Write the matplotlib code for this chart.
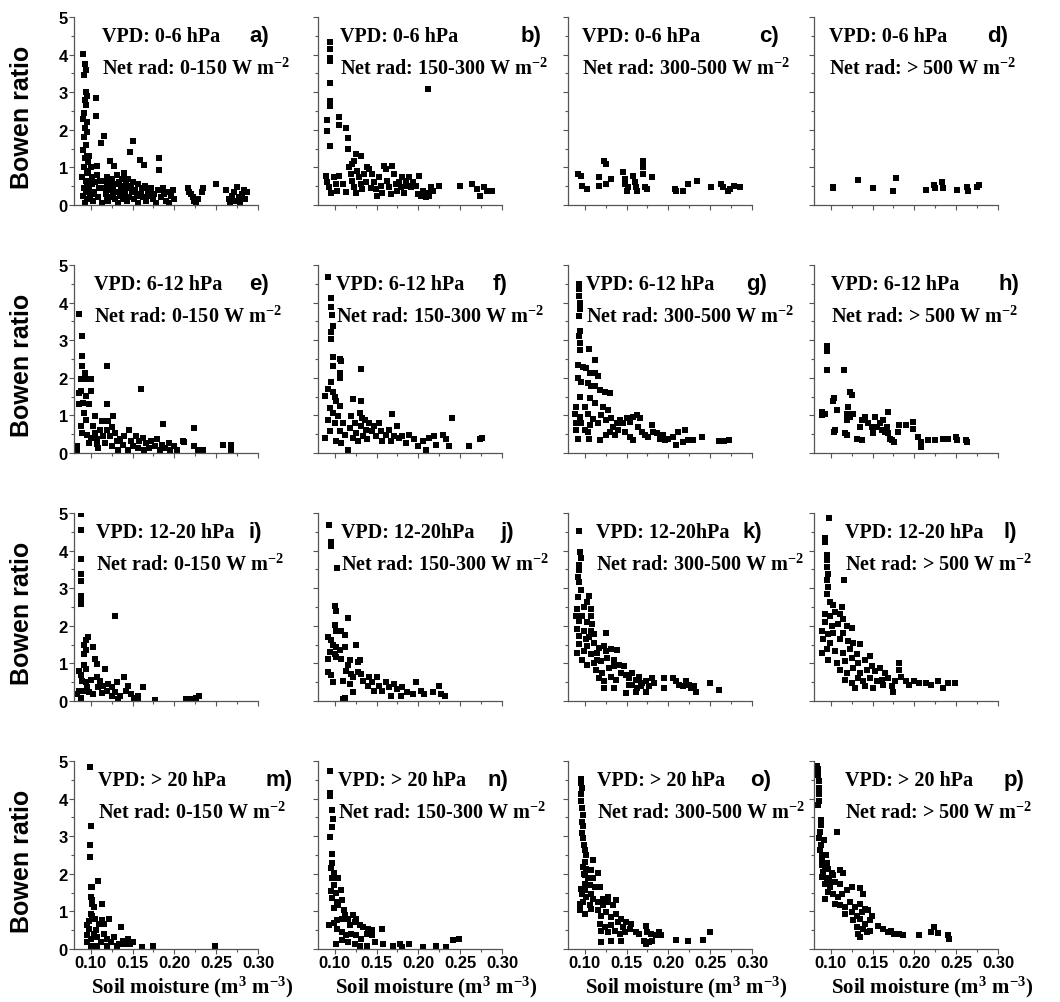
import matplotlib
matplotlib.use("Agg")
import matplotlib.pyplot as plt
from matplotlib.ticker import MultipleLocator

plt.rcParams['mathtext.fontset'] = 'custom'
plt.rcParams['mathtext.rm'] = 'Liberation Serif:bold'
plt.rcParams['mathtext.bf'] = 'Liberation Serif:bold'
plt.rcParams['mathtext.it'] = 'Liberation Serif:bold'

# soil moisture (m3 m-3), Bowen ratio
# VPD 0-6 hPa
pts_a = [(0.091,4.02),(0.093,3.75),(0.094,3.6),(0.092,3.45),(0.094,3.0),(0.095,2.9),(0.093,2.8),(0.094,2.65),
         (0.092,2.45),(0.091,2.3),(0.095,2.2),(0.093,2.05),(0.096,1.95),(0.092,1.8),(0.094,1.6),(0.091,1.45),
         (0.095,1.3),(0.093,1.25),(0.097,1.15),(0.092,1.0),(0.095,0.9),(0.090,0.75),(0.094,0.65),(0.096,0.55),
         (0.092,0.45),(0.094,0.35),(0.091,0.25),(0.096,0.15),(0.093,0.05),(0.098,0.4),(0.099,0.6),(0.099,0.2),
         (0.097,0.85),(0.100,1.0),(0.101,0.3),(0.098,1.3),(0.101,0.55),(0.103,0.1),(0.104,0.35),(0.105,0.6),
         (0.106,2.85),(0.106,2.37),(0.107,1.05),(0.108,0.8),(0.109,0.2),(0.110,0.45),(0.112,1.66),(0.116,1.84),
         (0.114,0.05),(0.117,0.65),(0.118,0.3),(0.119,0.55),(0.120,0.75),(0.121,0.1),(0.122,0.4),(0.123,1.17),
         (0.124,0.6),(0.125,0.2),(0.126,0.7),(0.127,0.45),(0.128,1.05),(0.129,0.15),(0.130,0.55),(0.131,0.35),
         (0.132,0.8),(0.133,0.05),(0.134,0.6),(0.135,0.25),(0.136,0.5),(0.137,0.7),(0.138,0.15),(0.139,0.4),
         (0.140,0.85),(0.141,0.3),(0.142,0.55),(0.143,0.1),(0.144,0.45),(0.145,0.7),(0.147,1.40),(0.150,1.70),
         (0.146,0.2),(0.148,0.5),(0.149,0.35),(0.151,0.6),(0.152,0.15),(0.153,0.4),(0.155,0.25),(0.156,0.55),
         (0.157,0.05),(0.159,1.21),(0.160,0.3),(0.161,0.45),(0.162,0.2),(0.164,1.06),(0.165,0.5),(0.166,0.1),
         (0.168,0.35),(0.170,0.25),(0.172,0.45),(0.174,0.15),(0.176,0.3),(0.178,0.05),(0.180,0.4),(0.182,1.24),
         (0.182,0.93),(0.184,0.2),(0.186,0.45),(0.188,0.3),(0.190,0.1),(0.192,0.35),(0.194,0.05),(0.196,0.25),
         (0.198,0.4),(0.200,0.15),(0.216,0.45),(0.218,0.35),(0.220,0.3),(0.222,0.2),(0.224,0.1),(0.226,0.05),
         (0.228,0.15),(0.234,0.44),(0.233,0.35),(0.250,0.57),(0.262,0.40),(0.265,0.15),(0.267,0.05),(0.269,0.25),
         (0.271,0.35),(0.273,0.1),(0.275,0.48),(0.277,0.2),(0.279,0.05),(0.281,0.3),(0.283,0.4),(0.285,0.15),
         (0.287,0.35),(0.102,0.75),(0.111,0.65),(0.115,0.45),(0.119,0.2),(0.127,0.3)]
pts_b = [(0.094,4.33),(0.094,4.15),(0.094,3.92),(0.094,3.83),(0.094,3.25),(0.094,2.76),(0.094,2.64),(0.091,2.26),
         (0.091,1.97),(0.094,1.56),(0.105,2.35),(0.105,2.13),(0.113,2.04),(0.116,1.77),(0.116,1.50),(0.126,1.36),
         (0.132,1.30),(0.123,1.18),(0.121,1.10),(0.212,3.09),(0.089,0.78),(0.091,0.60),(0.093,0.47),(0.095,0.33),
         (0.099,0.74),(0.101,0.56),(0.103,0.38),(0.105,0.78),(0.117,1.0),(0.119,0.83),(0.121,0.65),(0.123,0.47),
         (0.125,0.33),(0.127,0.9),(0.129,0.74),(0.131,0.56),(0.133,0.42),(0.135,0.83),(0.137,0.60),(0.139,1.0),
         (0.141,0.96),(0.145,0.83),(0.147,0.6),(0.149,0.42),(0.151,0.24),(0.153,0.74),(0.155,0.51),(0.157,0.33),
         (0.159,1.05),(0.161,0.96),(0.163,0.65),(0.165,0.47),(0.167,0.29),(0.169,1.05),(0.171,0.83),(0.173,0.56),
         (0.175,0.38),(0.177,0.6),(0.179,0.47),(0.181,0.74),(0.183,0.33),(0.185,0.65),(0.187,0.51),(0.189,0.74),
         (0.191,0.47),(0.193,0.60),(0.197,0.51),(0.199,0.29),(0.201,0.78),(0.203,0.24),(0.205,0.38),(0.207,0.29),
         (0.209,0.20),(0.211,0.33),(0.213,0.24),(0.215,0.47),(0.217,0.38),(0.225,0.51),(0.250,0.51),(0.264,0.56),
         (0.270,0.42),(0.274,0.24),(0.278,0.47),(0.282,0.38),(0.288,0.38),(0.110,0.55),(0.113,0.35),(0.143,0.45)]
pts_c = [(0.0925,0.83),(0.095,0.78),(0.103,0.42),(0.097,0.51),(0.117,0.74),(0.123,1.18),(0.125,1.08),(0.117,0.51),
         (0.125,0.56),(0.131,0.69),(0.146,0.87),(0.148,0.69),(0.148,0.56),(0.150,0.38),(0.152,0.47),(0.158,0.78),
         (0.160,0.60),(0.161,0.47),(0.162,0.38),(0.170,1.18),(0.170,1.0),(0.170,0.83),(0.172,0.47),(0.174,0.42),
         (0.180,0.74),(0.2075,0.42),(0.209,0.38),(0.217,0.38),(0.223,0.56),(0.234,0.65),(0.251,0.47),(0.263,0.56),
         (0.265,0.47),(0.271,0.38),(0.274,0.42),(0.278,0.51),(0.286,0.49)]
pts_d = [(0.103,0.49),(0.103,0.44),(0.133,0.67),(0.150,0.45),(0.174,0.38),(0.178,0.71),(0.214,0.40),(0.223,0.54),
         (0.225,0.45),(0.233,0.62),(0.234,0.45),(0.251,0.40),(0.263,0.49),(0.264,0.36),(0.275,0.49),(0.277,0.52)]
# VPD 6-12 hPa
pts_e = [(0.086,3.7),(0.090,3.1),(0.090,2.57),(0.090,2.32),(0.093,2.14),(0.088,1.96),(0.096,1.96),(0.1006,1.96),
         (0.086,1.6),(0.088,1.65),(0.094,1.52),(0.1006,1.65),(0.091,1.34),(0.098,1.29),(0.086,1.29),(0.092,1.07),
         (0.105,0.98),(0.120,2.32),(0.120,1.29),(0.160,1.71),(0.186,0.76),(0.223,0.67),(0.211,0.29),(0.258,0.22),
         (0.268,0.22),(0.268,0.09),(0.084,0.18),(0.084,0.09),(0.088,0.71),(0.090,0.54),(0.094,0.89),(0.096,0.49),
         (0.098,0.27),(0.103,0.71),(0.105,0.54),(0.107,0.36),(0.109,0.13),(0.111,0.62),(0.113,0.85),(0.115,0.45),
         (0.117,0.27),(0.119,0.62),(0.121,0.85),(0.123,0.45),(0.125,0.18),(0.127,0.98),(0.129,0.54),(0.131,0.31),
         (0.133,0.09),(0.135,0.36),(0.138,0.22),(0.140,0.45),(0.144,0.09),(0.146,0.62),(0.148,0.31),(0.150,0.18),
         (0.154,0.45),(0.156,0.13),(0.158,0.31),(0.162,0.40),(0.164,0.09),(0.166,0.27),(0.170,0.13),(0.172,0.31),
         (0.177,0.18),(0.179,0.36),(0.183,0.09),(0.185,0.22),(0.189,0.13),(0.193,0.27),(0.195,0.09),(0.199,0.18),
         (0.203,0.09),(0.210,0.31),(0.224,0.18),(0.228,0.09),(0.234,0.09),(0.100,0.4),(0.108,0.25),(0.125,0.7)]
pts_f = [(0.092,4.69),(0.096,4.13),(0.096,3.88),(0.097,3.66),(0.098,3.39),(0.096,3.21),(0.096,3.04),(0.098,2.54),
         (0.106,2.5),(0.108,2.46),(0.098,2.32),(0.106,2.14),(0.1315,2.23),(0.096,1.88),(0.106,2.0),(0.088,1.52),
         (0.092,1.70),(0.098,1.61),(0.102,1.38),(0.106,1.25),(0.122,1.43),(0.1315,1.38),(0.169,1.03),(0.240,0.94),
         (0.133,0.94),(0.088,0.40),(0.092,0.89),(0.094,0.58),(0.098,1.07),(0.100,0.80),(0.102,0.31),(0.104,0.98),
         (0.106,0.58),(0.108,0.27),(0.110,0.80),(0.112,0.49),(0.116,0.09),(0.118,0.67),(0.120,0.98),(0.122,0.40),
         (0.124,0.80),(0.126,0.54),(0.128,0.31),(0.130,1.07),(0.132,0.71),(0.134,0.45),(0.136,0.89),(0.137,0.62),
         (0.139,0.36),(0.141,0.80),(0.145,0.58),(0.147,0.71),(0.149,0.45),(0.153,0.80),(0.155,0.58),(0.157,0.31),
         (0.161,0.49),(0.165,0.62),(0.167,0.31),(0.171,0.45),(0.175,0.71),(0.177,0.40),(0.181,0.45),(0.185,0.27),
         (0.189,0.49),(0.195,0.36),(0.199,0.18),(0.205,0.31),(0.209,0.09),(0.213,0.40),(0.219,0.45),(0.221,0.22),
         (0.229,0.49),(0.233,0.36),(0.237,0.18),(0.260,0.18),(0.274,0.36),(0.276,0.40),(0.094,1.2),(0.100,1.5)]
pts_g = [(0.093,4.49),(0.093,4.36),(0.093,4.18),(0.094,4.0),(0.094,3.82),(0.093,3.64),(0.094,3.24),(0.093,3.11),
         (0.094,2.93),(0.094,2.75),(0.105,2.77),(0.112,2.48),(0.092,2.35),(0.098,2.30),(0.102,2.26),(0.106,2.13),
         (0.112,2.13),(0.116,2.04),(0.092,1.99),(0.096,1.90),(0.104,1.86),(0.108,1.77),(0.112,1.77),(0.118,1.68),
         (0.124,1.63),(0.130,1.59),(0.094,1.50),(0.106,1.46),(0.090,1.23),(0.100,1.23),(0.112,1.32),(0.088,1.05),
         (0.094,0.96),(0.104,1.05),(0.122,1.23),(0.128,1.14),(0.120,1.01),(0.090,0.79),(0.096,0.79),(0.106,0.74),
         (0.116,0.79),(0.126,0.88),(0.132,0.92),(0.090,0.61),(0.104,0.56),(0.092,0.38),(0.105,0.38),(0.118,0.34),
         (0.126,0.47),(0.136,0.47),(0.138,0.79),(0.142,0.88),(0.146,0.79),(0.150,0.92),(0.154,0.83),(0.158,0.96),
         (0.162,1.01),(0.166,0.92),(0.140,0.61),(0.148,0.56),(0.154,0.43),(0.158,0.34),(0.164,0.70),(0.168,0.56),
         (0.172,0.47),(0.176,0.43),(0.180,0.74),(0.182,0.56),(0.186,0.52),(0.190,0.38),(0.194,0.47),(0.196,0.34),
         (0.200,0.38),(0.206,0.43),(0.209,0.21),(0.212,0.56),(0.217,0.29),(0.220,0.61),(0.224,0.34),(0.230,0.34),
         (0.240,0.43),(0.261,0.31),(0.266,0.31),(0.273,0.34),(0.130,0.56),(0.134,0.70),(0.110,0.9),(0.100,0.6)]
pts_h = [(0.095,2.84),(0.095,2.71),(0.095,2.21),(0.116,2.21),(0.104,1.46),(0.103,1.37),(0.123,1.63),(0.126,1.54),
         (0.089,1.10),(0.093,1.05),(0.089,1.01),(0.107,1.14),(0.119,1.05),(0.127,1.05),(0.121,1.23),(0.123,0.96),
         (0.119,0.88),(0.105,0.61),(0.104,0.56),(0.117,0.52),(0.119,0.47),(0.131,0.38),(0.137,0.34),(0.135,0.70),
         (0.137,0.88),(0.141,0.96),(0.145,0.79),(0.149,0.70),(0.151,0.52),(0.153,0.96),(0.155,0.70),(0.159,0.79),
         (0.161,0.61),(0.163,0.88),(0.165,0.56),(0.169,1.10),(0.167,0.70),(0.169,0.52),(0.171,0.38),(0.173,0.34),
         (0.176,0.29),(0.180,0.56),(0.182,0.74),(0.190,0.74),(0.198,0.83),(0.198,0.64),(0.204,0.43),(0.208,0.29),
         (0.208,0.16),(0.216,0.34),(0.225,0.34),(0.234,0.38),(0.240,0.36),(0.250,0.43),(0.251,0.35),(0.262,0.34),
         (0.263,0.29)]
# VPD 12-20 hPa
pts_i = [(0.088,4.97),(0.088,4.55),(0.088,3.78),(0.088,3.38),(0.088,3.20),(0.088,2.79),(0.088,2.70),(0.088,2.57),
         (0.1285,2.25),(0.0965,1.71),(0.094,1.62),(0.092,1.49),(0.094,1.35),(0.092,1.26),(0.1026,1.44),(0.105,1.13),
         (0.107,0.99),(0.117,0.86),(0.092,0.95),(0.094,0.86),(0.086,0.81),(0.088,0.68),(0.090,0.54),(0.094,0.50),
         (0.096,0.36),(0.086,0.27),(0.084,0.18),(0.088,0.09),(0.0985,0.23),(0.1026,0.18),(0.107,0.63),(0.111,0.54),
         (0.115,0.41),(0.119,0.27),(0.121,0.45),(0.125,0.36),(0.129,0.23),(0.131,0.50),(0.135,0.14),(0.140,0.63),
         (0.142,0.27),(0.144,0.41),(0.148,0.18),(0.152,0.09),(0.156,0.14),(0.162,0.36),(0.156,0.09),(0.177,0.02),
         (0.214,0.05),(0.220,0.05),(0.226,0.09),(0.230,0.14),(0.092,0.27),(0.109,0.36),(0.125,0.14),(0.133,0.05),
         (0.100,0.55),(0.113,0.2)]
pts_j = [(0.093,4.68),(0.096,4.23),(0.096,4.13),(0.103,3.53),(0.100,2.52),(0.102,2.39),(0.100,2.03),(0.102,1.85),
         (0.116,2.21),(0.108,1.85),(0.112,1.76),(0.092,1.71),(0.096,1.62),(0.098,1.49),(0.102,1.44),(0.106,1.35),
         (0.094,1.31),(0.100,1.26),(0.112,1.44),(0.126,1.49),(0.108,1.13),(0.102,1.17),(0.092,1.13),(0.118,1.08),
         (0.116,0.95),(0.128,1.04),(0.130,1.08),(0.114,0.81),(0.120,0.72),(0.122,0.63),(0.128,0.77),(0.132,0.72),
         (0.092,0.77),(0.096,0.68),(0.098,0.50),(0.110,0.54),(0.118,0.45),(0.122,0.23),(0.134,0.54),(0.140,0.41),
         (0.141,0.63),(0.145,0.50),(0.147,0.27),(0.151,0.63),(0.153,0.41),(0.157,0.27),(0.161,0.50),(0.165,0.36),
         (0.167,0.14),(0.171,0.45),(0.175,0.32),(0.179,0.14),(0.181,0.36),(0.187,0.23),(0.193,0.18),(0.197,0.50),
         (0.203,0.27),(0.207,0.18),(0.217,0.23),(0.225,0.41),(0.227,0.18),(0.232,0.14),(0.110,0.05),(0.112,0.09)]
pts_k = [(0.093,4.51),(0.094,3.97),(0.095,3.79),(0.093,3.61),(0.093,3.48),(0.092,3.30),(0.093,3.16),(0.095,2.94),
         (0.092,2.76),(0.105,2.80),(0.103,2.63),(0.091,2.45),(0.099,2.49),(0.107,2.45),(0.089,2.27),(0.097,2.27),
         (0.107,2.27),(0.093,2.13),(0.103,2.09),(0.109,2.04),(0.091,1.91),(0.099,1.86),(0.107,1.86),(0.111,1.77),
         (0.093,1.73),(0.101,1.64),(0.125,1.82),(0.093,1.51),(0.103,1.46),(0.111,1.55),(0.117,1.42),(0.123,1.46),
         (0.091,1.28),(0.099,1.33),(0.107,1.24),(0.115,1.28),(0.125,1.33),(0.131,1.37),(0.139,1.35),(0.103,0.97),
         (0.111,1.01),(0.119,1.06),(0.127,1.15),(0.135,1.10),(0.113,0.83),(0.121,0.74),(0.129,0.88),(0.135,0.92),
         (0.141,0.97),(0.147,0.92),(0.117,0.61),(0.123,0.52),(0.131,0.65),(0.137,0.56),(0.143,0.74),(0.149,0.70),
         (0.153,0.61),(0.157,0.74),(0.161,0.56),(0.165,0.65),(0.123,0.34),(0.135,0.34),(0.149,0.21),(0.157,0.43),
         (0.163,0.34),(0.169,0.47),(0.173,0.25),(0.177,0.39),(0.181,0.61),(0.183,0.47),(0.173,0.52),(0.167,0.39),
         (0.195,0.61),(0.195,0.34),(0.205,0.61),(0.209,0.52),(0.213,0.43),(0.217,0.39),(0.221,0.52),(0.225,0.43),
         (0.227,0.34),(0.233,0.25),(0.231,0.39),(0.250,0.47),(0.261,0.28),(0.153,0.43),(0.161,0.25),(0.097,1.1),
         (0.105,1.7),(0.115,1.1)]
pts_l = [(0.098,4.88),(0.093,4.33),(0.093,4.24),(0.095,3.88),(0.095,3.75),(0.095,3.57),(0.097,3.39),(0.095,3.21),
         (0.116,3.21),(0.097,3.03),(0.095,2.85),(0.099,2.63),(0.103,2.54),(0.113,2.49),(0.093,2.31),(0.099,2.27),
         (0.105,2.36),(0.111,2.31),(0.115,2.18),(0.093,2.09),(0.101,2.00),(0.109,2.04),(0.119,2.00),(0.089,1.86),
         (0.097,1.77),(0.103,1.82),(0.115,1.82),(0.125,1.95),(0.091,1.64),(0.099,1.55),(0.111,1.64),(0.121,1.59),
         (0.127,1.55),(0.135,1.51),(0.089,1.28),(0.095,1.37),(0.105,1.33),(0.115,1.28),(0.123,1.37),(0.131,1.24),
         (0.097,1.10),(0.107,1.01),(0.117,1.06),(0.125,1.15),(0.133,1.01),(0.141,1.10),(0.147,1.19),(0.111,0.83),
         (0.119,0.74),(0.127,0.88),(0.135,0.74),(0.143,0.83),(0.149,0.92),(0.153,0.79),(0.159,0.88),(0.165,0.74),
         (0.117,0.56),(0.125,0.47),(0.133,0.61),(0.139,0.52),(0.147,0.61),(0.155,0.52),(0.161,0.56),(0.169,0.61),
         (0.129,0.34),(0.141,0.39),(0.151,0.34),(0.163,0.43),(0.173,0.39),(0.175,0.25),(0.177,0.52),(0.182,1.01),
         (0.182,0.83),(0.184,0.65),(0.190,0.52),(0.194,0.43),(0.200,0.52),(0.206,0.47),(0.214,0.47),(0.220,0.43),
         (0.228,0.52),(0.234,0.34),(0.240,0.47),(0.248,0.47)]
# VPD > 20 hPa
pts_m = [(0.099,4.85),(0.100,3.26),(0.099,2.77),(0.099,2.46),(0.100,1.65),(0.102,1.65),(0.109,1.81),(0.114,1.19),
         (0.100,1.38),(0.102,1.29),(0.101,1.21),(0.104,1.12),(0.100,0.94),(0.102,0.89),(0.096,0.63),(0.098,0.54),
         (0.105,0.80),(0.110,0.67),(0.114,0.76),(0.122,0.80),(0.116,0.67),(0.096,0.36),(0.100,0.27),(0.104,0.40),
         (0.108,0.31),(0.112,0.18),(0.116,0.40),(0.120,0.27),(0.124,0.18),(0.128,0.31),(0.136,0.58),(0.134,0.13),
         (0.132,0.09),(0.139,0.22),(0.141,0.13),(0.145,0.27),(0.147,0.13),(0.151,0.18),(0.096,0.18),(0.100,0.09),
         (0.108,0.09),(0.120,0.09),(0.161,0.04),(0.175,0.09),(0.249,0.09),(0.106,0.5),(0.098,0.75)]
pts_n = [(0.094,4.73),(0.094,4.14),(0.094,4.07),(0.097,3.69),(0.098,3.47),(0.097,3.24),(0.094,2.97),(0.097,2.52),
         (0.097,2.30),(0.095,2.16),(0.099,2.03),(0.097,1.89),(0.099,1.71),(0.104,1.89),(0.095,1.53),(0.101,1.49),
         (0.107,1.58),(0.097,1.35),(0.103,1.26),(0.109,1.31),(0.099,1.08),(0.104,1.17),(0.111,1.04),(0.093,0.63),
         (0.099,0.70),(0.103,0.77),(0.109,0.81),(0.112,0.90),(0.116,0.81),(0.122,0.90),(0.126,0.81),(0.118,0.63),
         (0.124,0.72),(0.130,0.63),(0.134,0.59),(0.140,0.54),(0.144,0.50),(0.156,0.54),(0.103,0.54),(0.109,0.45),
         (0.114,0.36),(0.120,0.41),(0.126,0.36),(0.132,0.27),(0.138,0.41),(0.144,0.36),(0.101,0.14),(0.109,0.23),
         (0.116,0.18),(0.124,0.14),(0.130,0.09),(0.138,0.09),(0.148,0.18),(0.158,0.14),(0.170,0.09),(0.178,0.14),
         (0.180,0.05),(0.189,0.14),(0.205,0.05),(0.221,0.09),(0.233,0.05),(0.241,0.23),(0.249,0.27)]
pts_o = [(0.095,4.53),(0.096,4.42),(0.097,4.29),(0.096,4.11),(0.095,3.93),(0.097,3.75),(0.098,3.57),(0.097,3.39),
         (0.098,3.26),(0.097,3.08),(0.098,2.95),(0.099,2.77),(0.100,2.63),(0.102,2.50),(0.110,2.37),(0.100,2.32),
         (0.098,2.19),(0.102,2.14),(0.108,2.10),(0.116,2.01),(0.100,1.96),(0.104,1.88),(0.110,1.88),(0.100,1.74),
         (0.106,1.70),(0.112,1.65),(0.118,1.65),(0.100,1.56),(0.108,1.47),(0.102,1.38),(0.110,1.34),(0.094,1.21),
         (0.098,1.25),(0.106,1.16),(0.116,1.25),(0.122,1.34),(0.128,1.38),(0.094,1.03),(0.100,0.94),(0.108,1.07),
         (0.116,1.03),(0.122,1.16),(0.128,1.25),(0.134,1.16),(0.137,1.29),(0.120,0.89),(0.126,0.98),(0.132,0.85),
         (0.137,0.94),(0.143,0.80),(0.118,0.67),(0.124,0.58),(0.132,0.63),(0.140,0.71),(0.146,0.58),(0.149,0.71),
         (0.155,0.67),(0.120,0.49),(0.128,0.45),(0.136,0.49),(0.142,0.40),(0.148,0.45),(0.154,0.54),(0.161,0.45),
         (0.165,0.40),(0.173,0.62),(0.175,0.45),(0.179,0.40),(0.185,0.36),(0.189,0.45),(0.191,0.36),(0.120,0.18),
         (0.132,0.22),(0.143,0.22),(0.171,0.22),(0.173,0.13),(0.177,0.18),(0.181,0.22),(0.209,0.24),(0.223,0.22),
         (0.242,0.24),(0.250,0.45),(0.096,1.6),(0.099,2.0),(0.097,1.45)]
pts_p = [(0.084,4.88),(0.085,4.78),(0.085,4.62),(0.086,4.46),(0.086,4.29),(0.086,4.11),(0.086,3.93),(0.085,3.84),
         (0.088,3.44),(0.088,3.30),(0.087,3.12),(0.086,2.95),(0.088,2.77),(0.087,2.63),(0.089,2.50),(0.090,2.37),
         (0.089,2.23),(0.093,2.19),(0.097,2.14),(0.091,2.05),(0.101,2.01),(0.107,3.12),(0.089,1.92),(0.095,1.88),
         (0.103,1.96),(0.111,2.10),(0.115,2.01),(0.093,1.74),(0.099,1.65),(0.105,1.79),(0.111,1.74),(0.093,1.34),
         (0.097,1.52),(0.103,1.47),(0.109,1.38),(0.113,1.47),(0.119,1.56),(0.125,1.65),(0.135,1.61),(0.105,1.21),
         (0.111,1.16),(0.117,1.12),(0.123,1.25),(0.129,1.12),(0.135,1.21),(0.139,1.47),(0.141,1.07),(0.117,0.94),
         (0.125,0.98),(0.131,0.89),(0.137,0.98),(0.145,1.03),(0.149,0.89),(0.127,0.76),(0.135,0.80),(0.141,0.67),
         (0.147,0.76),(0.131,0.58),(0.139,0.54),(0.143,0.45),(0.133,0.40),(0.135,0.31),(0.147,0.49),(0.157,0.62),
         (0.163,0.54),(0.169,0.45),(0.172,0.49),(0.176,0.40),(0.182,0.40),(0.186,0.36),(0.206,0.36),(0.220,0.45),
         (0.224,0.58),(0.228,0.42),(0.240,0.36),(0.241,0.27),(0.092,2.9),(0.094,2.5),(0.096,2.3),(0.098,1.8)]

panels = [pts_a, pts_b, pts_c, pts_d, pts_e, pts_f, pts_g, pts_h,
          pts_i, pts_j, pts_k, pts_l, pts_m, pts_n, pts_o, pts_p]
letters = list("abcdefghijklmnop")
vpd_txt = ["0-6 hPa"] * 4 + ["6-12 hPa"] * 4 + ["12-20 hPa", "12-20hPa", "12-20hPa", "12-20 hPa"] + ["> 20 hPa"] * 4
rad_txt = ["0-150", "150-300", "300-500", "> 500"] * 4

# layout (pixels of the 1060x1003 image)
W, H = 1060, 1003
col_left = [74, 318, 568, 814]
row_top = [18, 266, 514, 762]
aw, ah = 184, 188
txt_x = [0.15, 0.12, 0.075, 0.08, 0.11, 0.10, 0.10, 0.09,
         0.12, 0.125, 0.15, 0.17, 0.13, 0.11, 0.16, 0.17]
lab_x = [0.955, 1.10, 1.04, 0.94, 0.95, 0.95, 0.97, 1.0,
         0.95, 0.99, 0.95, 1.03, 1.04, 0.92, 0.99, 1.03]

fig = plt.figure(figsize=(W / 100, H / 100), dpi=100)

for k, pts in enumerate(panels):
    r, c = divmod(k, 4)
    ax = fig.add_axes([col_left[c] / W, 1 - (row_top[r] + ah) / H, aw / W, ah / H])
    xs = [p[0] for p in pts]
    ys = [p[1] for p in pts]
    ax.scatter(xs, ys, marker='s', s=17, c='k', linewidths=0)
    ax.set_xlim(0.08, 0.30)
    ax.set_ylim(0, 5)
    for s in ['top', 'right']:
        ax.spines[s].set_visible(False)
    for s in ['left', 'bottom']:
        ax.spines[s].set_color('#555555')
        ax.spines[s].set_linewidth(0.9)
    ax.xaxis.set_major_locator(MultipleLocator(0.05))
    ax.xaxis.set_minor_locator(MultipleLocator(0.025))
    ax.yaxis.set_major_locator(MultipleLocator(1))
    ax.yaxis.set_minor_locator(MultipleLocator(0.5))
    ax.tick_params(which='both', direction='out', color='#555555', width=0.8)
    ax.tick_params(which='major', length=3.5)
    ax.tick_params(which='minor', length=2.5)
    ax.set_xticks([0.10, 0.15, 0.20, 0.25, 0.30])
    if r == 3:
        ax.set_xticklabels(['0.10', '0.15', '0.20', '0.25', '0.30'],
                           fontfamily='Liberation Sans', fontweight='bold', fontsize=12)
        ax.tick_params(axis='x', pad=1)
        ax.text(0.64, -0.2, r'Soil moisture (m$^{3}$ m$^{-3}$)', transform=ax.transAxes,
                ha='center', va='center', fontfamily='Liberation Serif', fontweight='bold', fontsize=15)
    else:
        ax.set_xticklabels([])
    if c == 0:
        ax.set_yticks([0, 1, 2, 3, 4, 5])
        ax.set_yticklabels(['0', '1', '2', '3', '4', '5'],
                           fontfamily='Liberation Sans', fontweight='bold', fontsize=12)
        ax.tick_params(axis='y', pad=1)
        ax.text(-0.28, 0.47, 'Bowen ratio', transform=ax.transAxes, rotation=90,
                ha='center', va='center', fontfamily='Liberation Sans', fontweight='bold', fontsize=18)
    else:
        ax.set_yticklabels([])

    ax.text(txt_x[k], 0.87, 'VPD: ' + vpd_txt[k], transform=ax.transAxes, va='baseline',
            fontfamily='Liberation Serif', fontweight='bold', fontsize=14.5)
    ax.text(txt_x[k], 0.70, 'Net rad: ' + rad_txt[k] + r' W m$^{-2}$', transform=ax.transAxes,
            va='baseline', fontfamily='Liberation Serif', fontweight='bold', fontsize=14.5)
    ax.text(lab_x[k], 0.87, letters[k] + ')', transform=ax.transAxes, va='baseline', ha='left',
            fontfamily='Liberation Sans', fontweight='bold', fontsize=16)

fig.savefig('out.png', dpi=100)
